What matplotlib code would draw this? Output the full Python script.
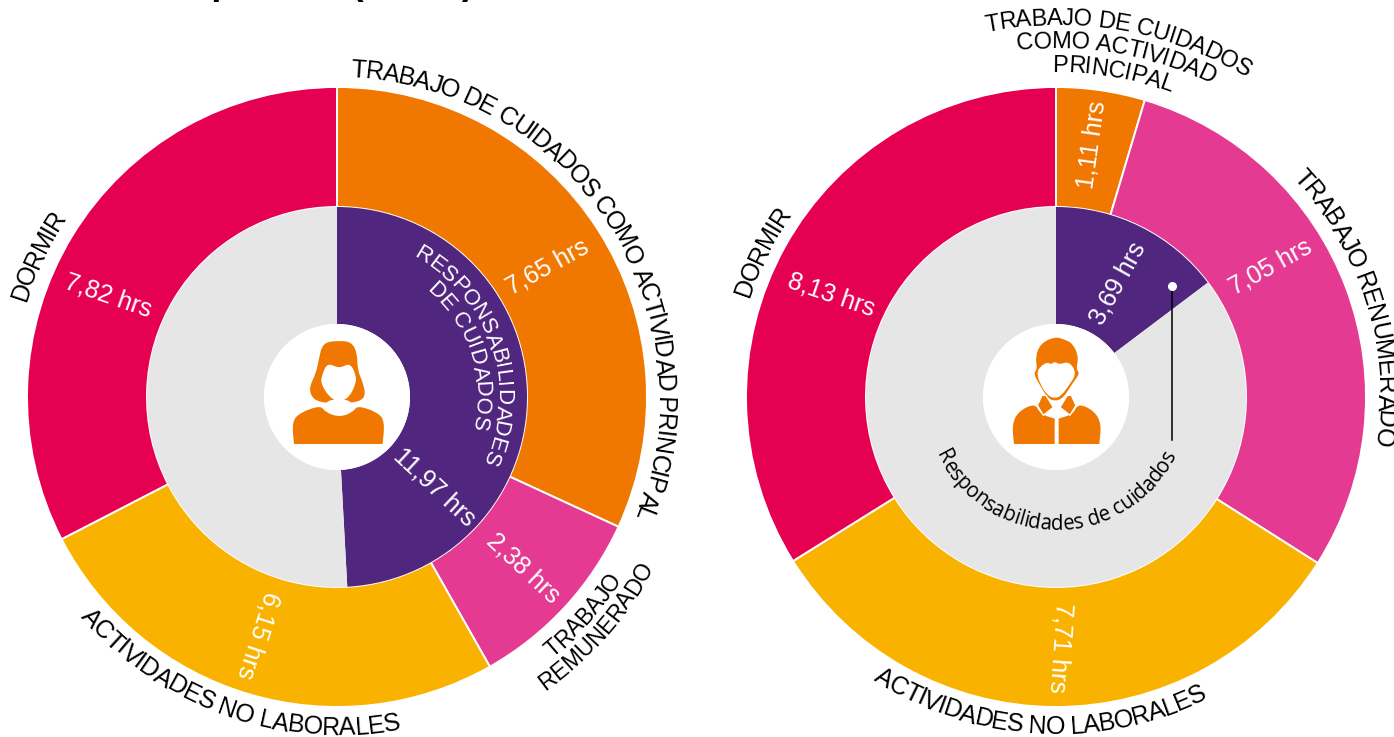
import numpy as np
import matplotlib
matplotlib.use('Agg')
import matplotlib.pyplot as plt
from matplotlib import font_manager as fm
from matplotlib.font_manager import FontProperties, get_font
from matplotlib.ft2font import LoadFlags
from matplotlib.patches import Circle, PathPatch
from matplotlib.path import Path

W, H = 1394, 737

# data
women_outer_labels = ['TRABAJO DE CUIDADOS COMO ACTIVIDAD PRINCIPAL', 'TRABAJO REMUNERADO',
                      'ACTIVIDADES NO LABORALES', 'DORMIR']
women_outer = [7.65, 2.38, 6.15, 7.82]
women_inner = [11.97, 12.39]

men_outer_labels = ['TRABAJO DE CUIDADOS COMO ACTIVIDAD PRINCIPAL', 'TRABAJO RENUMERADO',
                    'ACTIVIDADES NO LABORALES', 'DORMIR']
men_outer = [1.11, 7.05, 7.71, 8.13]
men_inner = [3.69, 21.37]

care_label = 'Responsabilidades de cuidados'

CRIMSON = '#e50051'
ORANGE = '#f07800'
PINK = '#e43a92'
YELLOW = '#f9b200'
PURPLE = '#51267f'
GRAY = '#e6e6e6'
outer_colors = [ORANGE, PINK, YELLOW, CRIMSON]
inner_colors = [PURPLE, GRAY]

R_OUT = 310
R_IN = 190
R_HOLE = 73
ARIAL = 'Liberation Sans'


def hrs(v):
    return f'{v:.2f}'.replace('.', ',') + ' hrs'


def donut_axes(fig, cx, cy, outer, inner):
    # axes units are pixels, centre of the rings is 0,0
    pad = 345
    ax = fig.add_axes([(cx - pad) / W, 1 - (cy + pad) / H, 2 * pad / W, 2 * pad / H])
    ax.pie(outer, colors=outer_colors, startangle=90, counterclock=False, radius=R_OUT,
           wedgeprops=dict(width=R_OUT - R_IN, edgecolor='white', linewidth=1.4))
    ax.pie(inner, colors=inner_colors, startangle=90, counterclock=False, radius=R_IN,
           wedgeprops=dict(width=R_IN - R_HOLE, edgecolor='none'))
    ax.add_patch(Circle((0, 0), R_HOLE, fc='white', ec='none', zorder=3))
    ax.set_xlim(-pad, pad)
    ax.set_ylim(-pad, pad)
    ax.set_aspect('equal')
    ax.axis('off')
    return ax


def advances(s, family, size):
    fp = FontProperties(family=family)
    font = get_font(fm.findfont(fp))
    font.set_size(size, 100)
    out = []
    for c in s:
        g = font.load_char(ord(c), flags=LoadFlags.NO_HINTING)
        out.append(g.linearHoriAdvance / 65536)
    return np.array(out)


def curved(ax, s, r, mid, size, color='black', family=ARIAL, flip=False, spacing=0.0):
    # mid is degrees clockwise from the top; flip puts the letter tops toward the centre
    adv = advances(s, family, size) + spacing
    total = adv.sum()
    pos = np.cumsum(adv) - adv / 2 - total / 2
    for c, p in zip(s, pos):
        d = np.degrees(p / r)
        a = mid - d if flip else mid + d
        t = np.radians(a)
        x, y = r * np.sin(t), r * np.cos(t)
        rot = 180 - a if flip else -a
        ax.text(x, y, c, rotation=rot, rotation_mode='anchor', ha='center', va='baseline',
                fontsize=size, color=color, family=family, clip_on=False, zorder=6)


def value(ax, v, x, y, rot, size=18):
    ax.text(x, y, hrs(v), rotation=rot, rotation_mode='anchor', ha='center', va='center',
            fontsize=size, color='white', family=ARIAL, zorder=6)


def blob(ax, pts, ox, oy, color, z=4):
    # closed smooth shape from zoom-crop control points (3x scale)
    p = np.array(pts, float) / 3
    p = np.c_[p[:, 0] + ox, -(p[:, 1] + oy)]
    n = len(p)
    verts = [(p[-1] + p[0]) / 2]
    codes = [Path.MOVETO]
    for i in range(n):
        verts += [p[i], (p[i] + p[(i + 1) % n]) / 2]
        codes += [Path.CURVE3, Path.CURVE3]
    verts.append(verts[0])
    codes.append(Path.CLOSEPOLY)
    ax.add_patch(PathPatch(Path(verts, codes), fc=color, ec='none', zorder=z))


def poly(ax, pts, ox, oy, color, z=4):
    p = np.array(pts, float) / 3
    p = np.c_[p[:, 0] + ox, -(p[:, 1] + oy)]
    ax.fill(p[:, 0], p[:, 1], fc=color, ec='white', lw=1.0, zorder=z)


def woman(ax, ox, oy):
    blob(ax, [(265, 62), (218, 68), (206, 120), (198, 160), (176, 205), (190, 240), (232, 250),
              (305, 250), (346, 236), (342, 195), (322, 150), (322, 100), (305, 66)], ox, oy, ORANGE)
    blob(ax, [(216, 165), (232, 128), (268, 146), (300, 128), (318, 165), (318, 190), (298, 232),
              (268, 246), (238, 232), (212, 190)], ox, oy, 'white', 5)
    blob(ax, [(132, 372), (132, 372), (126, 305), (150, 278), (212, 256), (225, 276), (268, 292), (310, 276),
              (322, 256), (385, 278), (404, 305), (398, 372), (398, 372)], ox, oy, ORANGE)
    blob(ax, [(228, 238), (304, 238), (306, 270), (268, 288), (230, 270)], ox, oy, 'white', 5)


def man(ax, ox, oy):
    blob(ax, [(285, 50), (242, 70), (226, 110), (232, 148), (220, 160), (238, 192), (262, 234), (285, 244),
              (310, 234), (336, 192), (360, 160), (348, 148), (356, 110), (338, 70), (312, 58)], ox, oy, ORANGE)
    blob(ax, [(240, 140), (262, 126), (272, 134), (285, 124), (297, 134), (328, 124), (350, 160),
              (328, 195), (305, 226), (285, 236), (262, 226), (242, 195), (230, 160)], ox, oy, 'white', 5)
    blob(ax, [(162, 372), (162, 372), (156, 310), (178, 272), (226, 250), (240, 282), (284, 296), (284, 296),
              (284, 372), (284, 372)], ox, oy, ORANGE)
    blob(ax, [(296, 372), (296, 372), (296, 296), (296, 296), (340, 282), (354, 250), (402, 272),
              (424, 310), (418, 372), (418, 372)], ox, oy, ORANGE)
    poly(ax, [(246, 226), (258, 226), (280, 262), (250, 286), (232, 256)], ox, oy, ORANGE, 5)
    poly(ax, [(334, 226), (322, 226), (300, 262), (330, 286), (348, 256)], ox, oy, ORANGE, 5)


fig = plt.figure(figsize=(W / 100, H / 100), dpi=100, facecolor='white')

# left chart
ax = donut_axes(fig, 337, 397, women_outer, women_inner)
curved(ax, women_outer_labels[0], 320, 57.3, 18, spacing=-1.1)
curved(ax, 'TRABAJO', 338, 131.5, 16.5, flip=True)
curved(ax, 'REMUNERADO', 360, 131.5, 16.5, flip=True)
curved(ax, women_outer_labels[2], 338, 199.2, 18, flip=True, spacing=-0.45)
curved(ax, women_outer_labels[3], 325, 295.3, 18, spacing=-1.2)
curved(ax, 'RESPONSABILIDADES', 160, 71.5, 16, color='white')
curved(ax, 'DE CUIDADOS', 139, 71.5, 16, color='white')
value(ax, women_outer[0], 210, 130, 29)
value(ax, women_outer[1], 186, -171, -43)
value(ax, women_outer[2], -79, -238, -108)
value(ax, women_outer[3], -229, 101, -19)
value(ax, women_inner[0], 98, -90, -43)
woman(ax, 250 - 337, 320 - 397)

# right chart
ax = donut_axes(fig, 1056, 397, men_outer, men_inner)
curved(ax, 'TRABAJO DE CUIDADOS', 372, 10, 17, spacing=-0.5)
curved(ax, 'COMO ACTIVIDAD', 349, 10, 17, spacing=-0.5)
curved(ax, 'PRINCIPAL', 325, 10, 17, spacing=-0.5)
curved(ax, men_outer_labels[1], 322, 73, 18, spacing=-0.7)
curved(ax, men_outer_labels[2], 337, 183, 18, flip=True, spacing=-0.7)
curved(ax, men_outer_labels[3], 322, 296.3, 18, spacing=-1.2)
curved(ax, care_label, 133, 180, 14.8, family='Open Sans', flip=True)
value(ax, men_outer[0], 36, 252, 82)
value(ax, men_outer[1], 214, 130, 29)
value(ax, men_outer[2], 4, -251, -94)
value(ax, men_outer[3], -225, 102, -19)
value(ax, men_inner[0], 62, 114, 61)
ax.plot([116, 116], [111, -43], color='black', lw=1.1, zorder=5)
ax.plot([116], [111], 'o', ms=6.5, mfc='white', mec='none', zorder=6)
man(ax, 960 - 1056, 320 - 397)

# title is cut by the top edge of the image
fig.text(474 / W, 1 + 6.5 / H, 'tiempo total (horas)', ha='right', va='baseline', fontsize=26,
         fontweight='bold', family=ARIAL, color='black')

fig.savefig('out.png', dpi=100, facecolor='white')
